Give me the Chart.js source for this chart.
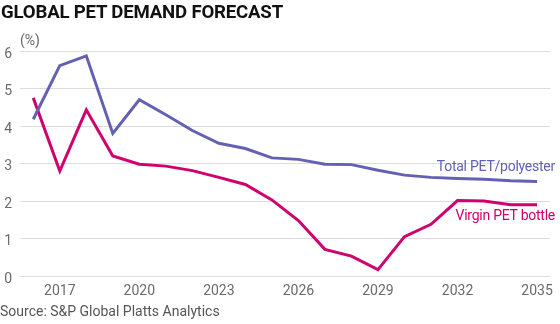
<!DOCTYPE html>
<html>
<head>
<meta charset="utf-8">
<script src="https://cdn.jsdelivr.net/npm/chart.js@4/dist/chart.umd.min.js"></script>
<style>
  html, body { margin: 0; padding: 0; background: #fff; }
  #wrap { position: relative; width: 560px; height: 324px; overflow: hidden; font-family: Roboto, "Noto Sans", sans-serif; }
  #chart { position: absolute; left: 0; top: 0; }
  .txt { position: absolute; white-space: nowrap; line-height: 1; }
  #title { left: 1px; top: 2px; font-size: 19px; font-weight: 700; color: #111; transform-origin: 0 0; letter-spacing: -0.2px; }
  #unit { left: 20px; top: 33px; font-size: 14px; color: #666; }
  #source { left: 0; top: 304px; font-size: 14px; color: #555; }
  .series { font-size: 14px; right: 5px; letter-spacing: -0.25px; }
  #lblTotal { top: 159px; color: #6461b3; }
  #lblVirgin { top: 208px; color: #d1006f; }
</style>
</head>
<body>
<div id="wrap">
  <canvas id="chart" width="560" height="324"></canvas>
  <div class="txt" id="title">GLOBAL PET DEMAND FORECAST</div>
  <div class="txt" id="unit">(%)</div>
  <div class="txt series" id="lblTotal">Total PET/polyester</div>
  <div class="txt series" id="lblVirgin">Virgin PET bottle</div>
  <div class="txt" id="source">Source: S&amp;P Global Platts Analytics</div>
</div>
<script>
// Annual demand growth, %
const years = [2016, 2017, 2018, 2019, 2020, 2021, 2022, 2023, 2024, 2025,
               2026, 2027, 2028, 2029, 2030, 2031, 2032, 2033, 2034, 2035];
const totalPetPolyester = [4.18, 5.61, 5.87, 3.80, 4.70, 4.30, 3.88, 3.54, 3.40, 3.15,
                           3.11, 2.98, 2.97, 2.82, 2.69, 2.63, 2.60, 2.58, 2.54, 2.52];
const virginPetBottle = [4.75, 2.80, 4.43, 3.20, 2.98, 2.93, 2.81, 2.63, 2.44, 2.03,
                         1.48, 0.71, 0.53, 0.17, 1.05, 1.38, 2.01, 2.00, 1.90, 1.90];
const yTicks = [0, 1, 2, 3, 4, 5, 6];
const xTickYears = [2017, 2020, 2023, 2026, 2029, 2032, 2035];

const TEXT_FONT = 'Roboto, "Noto Sans", sans-serif';

new Chart(document.getElementById('chart'), {
  type: 'line',
  data: {
    labels: years.map(String),
    datasets: [
      {
        label: 'Total PET/polyester',
        data: totalPetPolyester,
        borderColor: '#6461b3',
        borderWidth: 3,
        pointRadius: 0,
        tension: 0,
        borderJoinStyle: 'miter'
      },
      {
        label: 'Virgin PET bottle',
        data: virginPetBottle,
        borderColor: '#d1006f',
        borderWidth: 3,
        pointRadius: 0,
        tension: 0,
        borderJoinStyle: 'miter'
      }
    ]
  },
  options: {
    responsive: false,
    animation: false,
    devicePixelRatio: 1,
    layout: { padding: { top: 51, right: 8, bottom: 0, left: 0 } },
    plugins: {
      legend: { display: false },
      tooltip: { enabled: false },
      title: { display: false }
    },
    scales: {
      x: {
        type: 'category',
        offset: true,
        grid: { display: false, drawTicks: false },
        border: { display: false },
        ticks: {
          autoSkip: false,
          maxRotation: 0,
          padding: 7,
          color: '#6b6b6b',
          font: { family: TEXT_FONT, size: 14 },
          callback: function (value) {
            const y = years[value];
            return xTickYears.includes(y) ? String(y) : '';
          }
        },
        afterFit: function (scale) { scale.height = 48; }
      },
      y: {
        min: 0,
        max: 6,
        afterBuildTicks: function (scale) {
          scale.ticks = yTicks.map(v => ({ value: v }));
        },
        grid: { color: '#dcdcdc', lineWidth: 1, drawTicks: false },
        border: { display: false },
        ticks: {
          padding: 8,
          labelOffset: 3,
          color: '#6b6b6b',
          font: { family: TEXT_FONT, size: 14 }
        },
        afterFit: function (scale) { scale.width = 20; }
      }
    }
  }
});

// Fit the heading to its measured width
const title = document.getElementById('title');
const w = title.getBoundingClientRect().width;
title.style.transform = 'scaleX(' + (282 / w) + ')';
</script>
</body>
</html>
